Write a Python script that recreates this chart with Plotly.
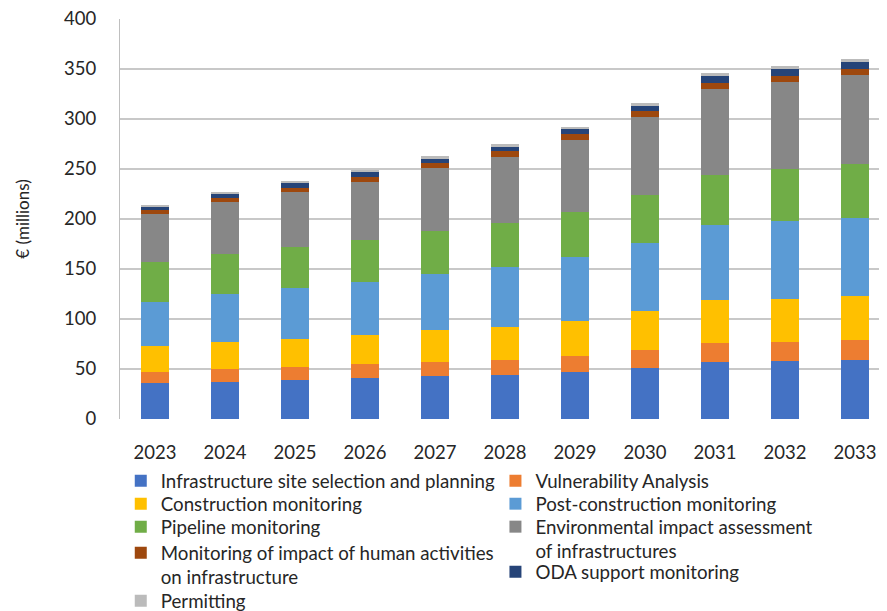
import plotly.graph_objects as go

years = ["2023", "2024", "2025", "2026", "2027", "2028", "2029", "2030", "2031", "2032", "2033"]

site_selection = [36, 37, 39, 41, 43, 44, 47, 51, 57, 58, 59]
vulnerability = [11, 13, 13, 14, 14, 15, 16, 18, 19, 19, 20]
construction = [26, 27, 28, 29, 32, 33, 35, 39, 43, 43, 44]
post_construction = [44, 48, 51, 53, 56, 60, 64, 68, 75, 78, 78]
pipeline = [40, 40, 41, 42, 43, 44, 45, 48, 50, 52, 54]
eia = [48, 52, 55, 58, 63, 66, 72, 78, 86, 87, 89]
human_activities = [4, 4, 4, 5, 5, 6, 6, 6, 6, 6, 6]
oda = [3, 4, 5, 5, 4, 4, 5, 5, 7, 7, 7]
permitting = [2, 2, 2, 2, 3, 3, 2, 3, 3, 3, 3]

series_names = [
    "Infrastructure site selection and planning",
    "Vulnerability Analysis",
    "Construction monitoring",
    "Post-construction monitoring",
    "Pipeline monitoring",
    "Environmental impact assessment<br>of infrastructures",
    "Monitoring of impact of human activities<br>on infrastructure",
    "ODA support monitoring",
    "Permitting",
]
series_values = [site_selection, vulnerability, construction, post_construction,
                 pipeline, eia, human_activities, oda, permitting]
colors = ["#4472C4", "#ED7D31", "#FFC000", "#5B9BD5", "#70AD47",
          "#878787", "#9E480E", "#264478", "#BBBBBB"]

# legend entry placement (paper coords): one small legend per series
legend_x = [0.001, 0.4895, 0.001, 0.4895, 0.001, 0.4895, 0.001, 0.4895, 0.001]
legend_y = [-0.1075, -0.1075, -0.165, -0.165, -0.2225, -0.2225, -0.2875, -0.335, -0.4075]

FONT = "Lato, 'Open Sans', sans-serif"
TXT = "#262626"

fig = go.Figure()
legends = {}
for i, (name, vals, col) in enumerate(zip(series_names, series_values, colors)):
    key = "legend" if i == 0 else f"legend{i + 1}"
    fig.add_trace(go.Bar(x=years, y=vals, name=name, legend=key,
                         marker=dict(color=col, line=dict(width=0))))
    legends[key] = dict(
        x=legend_x[i], y=legend_y[i], xanchor="left", yanchor="top",
        orientation="v", valign="top",
        font=dict(family=FONT, size=18.7, color=TXT),
        itemwidth=30, bgcolor="rgba(0,0,0,0)",
    )

fig.update_layout(
    width=879, height=603,
    barmode="stack", bargap=0.6,
    plot_bgcolor="white", paper_bgcolor="white",
    margin=dict(l=112, r=0, t=11, b=192, autoexpand=False),
    font=dict(family=FONT, size=17, color=TXT),
    showlegend=True,
    xaxis=dict(
        type="category", range=[-0.5, 10.457],
        showgrid=False, showline=False, ticks="",
        tickfont=dict(family=FONT, size=18.5, color=TXT),
        ticklabelstandoff=20,
    ),
    yaxis=dict(
        range=[0, 400.01], tickmode="array",
        tickvals=[0, 50, 100, 150, 200, 250, 300, 350, 400],
        ticklabeloverflow="allow",
        showgrid=True, gridcolor="#C8C8C8", gridwidth=1.6,
        zeroline=False,
        showline=True, linecolor="#BFBFBF", linewidth=1,
        ticks="",
        tickfont=dict(family=FONT, size=18.5, color=TXT),
        ticklabelstandoff=19,
        title=dict(text="€ (millions)", font=dict(family=FONT, size=17, color=TXT), standoff=30),
    ),
    **legends,
)

fig.write_html("out.html")
